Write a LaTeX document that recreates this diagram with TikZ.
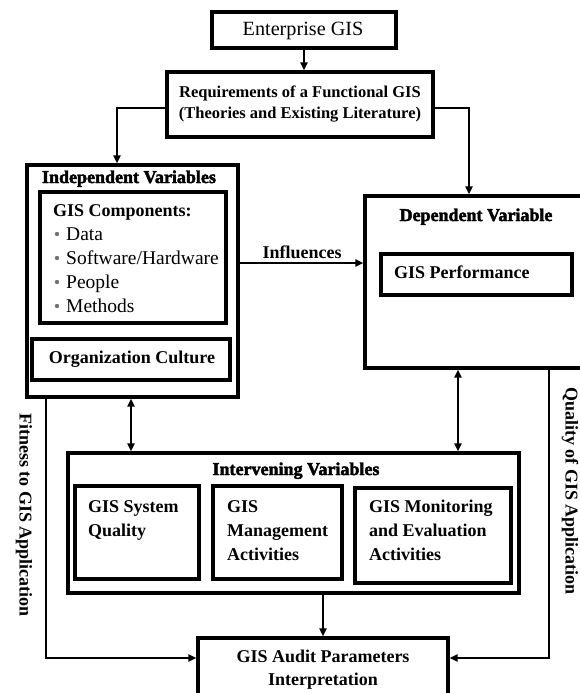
\documentclass[tikz,border=0pt]{standalone}
\usepackage{fontspec}
\setmainfont{Liberation Serif}
\newfontfamily\heavyfont[BoldFeatures={FakeBold=2.5}]{Liberation Serif}
\usetikzlibrary{arrows.meta}

\begin{document}
\begin{tikzpicture}[x=1pt,y=-1pt,
  frame/.style={draw, line width=3.1pt, inner sep=0pt},
  link/.style={line width=2pt, -{Triangle[length=8pt,width=7pt]}},
  twoway/.style={line width=2pt, {Triangle[length=8pt,width=7pt]}-{Triangle[length=8pt,width=7pt]}},
  lbl/.style={font=\fontsize{18}{24}\selectfont\bfseries, inner sep=0pt},
  hd/.style={font=\heavyfont\fontsize{18}{24}\selectfont\bfseries, inner sep=0pt, anchor=base},
  item/.style={font=\fontsize{19.5}{24}\selectfont, inner sep=0pt, anchor=base west},
  dot/.style={fill=black!55}
]
\clip (0,0) rectangle (580,693);

% top of the chain
\node[frame, minimum width=184pt, minimum height=36pt] (ent) at (304,30) {};
\node[font=\fontsize{20.2}{24}\selectfont, inner sep=0pt, anchor=base] (entT) at (303,35.5) {Enterprise GIS};

\node[frame, minimum width=266pt, minimum height=65pt] (req) at (300,104.5) {};
\node[font=\fontsize{16.5}{21}\selectfont\bfseries, inner sep=0pt, anchor=base] (reqA) at (300,97) {Requirements of a Functional GIS};
\node[font=\fontsize{16.5}{21}\selectfont\bfseries, inner sep=0pt, anchor=base] (reqB) at (300,118) {(Theories and Existing Literature)};

% independent variables
\node[frame, minimum width=211pt, minimum height=232pt] (ind) at (132.5,281) {};
\node[hd] (indT) at (129,183) {Independent Variables};
\node[frame, minimum width=186pt, minimum height=131pt] (comp) at (133,257.5) {};
\node[lbl, anchor=base west] (compT) at (53,216) {GIS Components:};
\node[item] (c1) at (66,240) {Data};
\node[item] (c2) at (66,264) {Software/Hardware};
\node[item] (c3) at (66,288) {People};
\node[item] (c4) at (66,312) {Methods};
\foreach \yy in {234,258,282,306} \fill[dot] (57,\yy) circle (2.2pt);
\node[frame, minimum width=198pt, minimum height=41pt] (org) at (131,359.5) {};
\node[lbl, anchor=base] (orgT) at (132,363) {Organization Culture};

% dependent variable
\node[frame, minimum width=235pt, minimum height=172pt] (dep) at (482.5,282) {};
\node[hd] (depT) at (476,221) {Dependent Variable};
\node[frame, minimum width=191pt, minimum height=41pt] (perf) at (476.5,274.5) {};
\node[lbl, anchor=base west] (perfT) at (394,278) {GIS Performance};

% intervening variables
\node[frame, minimum width=451pt, minimum height=140pt] (intv) at (293.5,523) {};
\node[hd] (intvT) at (296,475) {Intervening Variables};
\node[frame, minimum width=124pt, minimum height=93pt] (sq) at (137,532.5) {};
\node[lbl, anchor=base west] (sq1) at (88,512) {GIS System};
\node[lbl, anchor=base west] (sq2) at (88,536) {Quality};
\node[frame, minimum width=129pt, minimum height=93pt] (mg) at (277.5,532.5) {};
\node[lbl, anchor=base west] (mg1) at (227,512) {GIS};
\node[lbl, anchor=base west] (mg2) at (227,536) {Management};
\node[lbl, anchor=base west] (mg3) at (227,560) {Activities};
\node[frame, minimum width=156pt, minimum height=95pt] (mon) at (433,535.5) {};
\node[lbl, anchor=base west] (mon1) at (369,512) {GIS Monitoring};
\node[lbl, anchor=base west] (mon2) at (369,536) {and Evaluation};
\node[lbl, anchor=base west] (mon3) at (369,560) {Activities};

% audit
\node[frame, minimum width=250pt, minimum height=82pt] (aud) at (323,679) {};
\node[lbl, anchor=base] (aud1) at (323,662) {GIS Audit Parameters};
\node[lbl, anchor=base] (aud2) at (323,685) {Interpretation};

% side labels
\node[lbl, rotate=-90] (fit) at (24,515) {Fitness to GIS Application};
\node[lbl, rotate=-90] (qual) at (570,491) {Quality of GIS Application};

% connectors
\draw[link] (ent.south) -- (ent.south |- req.north);
\draw[link] ([yshift=-3.5pt]req.west) -| ([xshift=-15.5pt]ind.north);
\draw[link] ([yshift=-3.5pt]req.east) -| ([xshift=-13.5pt]dep.north);
\draw[link] ([yshift=18pt]ind.east) -- ([yshift=18pt]ind.east -| dep.west);
\node[lbl, anchor=base] (infl) at (302,258) {Influences};
\draw[twoway] ([xshift=-1.5pt]ind.south) -- ([xshift=-1.5pt]ind.south |- intv.north);
\draw[twoway] ([xshift=-24.5pt]dep.south) -- ([xshift=-24.5pt]dep.south |- intv.north);
\draw[link] ([xshift=-86.5pt]ind.south) |- ([yshift=21pt]aud.west);
\draw[link] ([xshift=66.5pt]dep.south) |- ([yshift=21pt]aud.east);
\draw[link] (intv.south -| aud.north) -- (aud.north);
\end{tikzpicture}
\end{document}
